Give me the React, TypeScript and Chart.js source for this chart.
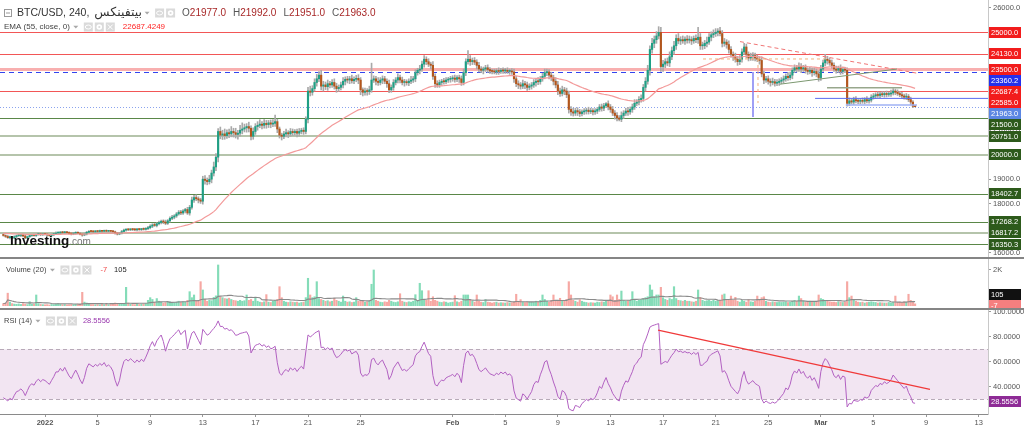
import React, { useEffect, useRef } from 'react';
import { Chart, registerables } from 'chart.js';

Chart.register(...registerables);

const FONT = '"Liberation Sans", "DejaVu Sans", Arial, sans-serif';

// ======================= DATA =======================
const symbolTitle = 'BTC/USD, 240,';
const exchangeTitle = 'بيتفينكس';
const emaTitle = 'EMA (55, close, 0)';
const volumeTitle = 'Volume (20)';
const rsiTitle = 'RSI (14)';
const ohlcLetters = ['O', 'H', 'L', 'C'];

// 240-minute candles; first one is 2021-12-28 20:00 (days counted from 2022-01-01 00:00)
const firstCandleDay = -19 / 6;
const candleStepDays = 1 / 6;
const firstOpen = 16720;

const closes = [
  16700,
  16660, 16610, 16640, 16600, 16650, 16690, // Dec 29
  16700, 16720, 16680, 16600, 16650, 16700, // Dec 30
  16720, 16700, 16740, 16760, 16730, 16750, // Dec 31
  16740, 16720, 16700, 16730, 16760, 16800, // Jan 1
  16800, 16830, 16810, 16840, 16810, 16780, // Jan 2
  16760, 16790, 16820, 16790, 16750, 16720, // Jan 3
  16760, 16830, 16870, 16860, 16850, 16870, // Jan 4
  16860, 16880, 16870, 16890, 16870, 16880, // Jan 5
  16870, 16850, 16800, 16760, 16790, 16860, // Jan 6
  16920, 16940, 16930, 16950, 16940, 16930, // Jan 7
  16950, 16940, 16960, 16950, 16980, 17020, // Jan 8
  17080, 17130, 17110, 17180, 17230, 17280, // Jan 9
  17250, 17200, 17300, 17400, 17450, 17500, // Jan 10
  17580, 17650, 17620, 17700, 17760, 17620, // Jan 11
  17850, 18150, 18250, 18200, 18150, 18100, // Jan 12
  19000, 18950, 18900, 19000, 19250, 19500, // Jan 13
  19900, 20950, 20800, 20850, 20780, 20900, // Jan 14
  20850, 20950, 20900, 20830, 20880, 21000, // Jan 15
  21050, 21100, 21150, 21080, 20750, 20950, // Jan 16
  21150, 21200, 21250, 21200, 21280, 21230, // Jan 17
  21300, 21250, 21280, 21350, 21050, 20800, // Jan 18
  20750, 20850, 20900, 20850, 20950, 20900, // Jan 19
  20950, 20880, 20950, 21000, 20950, 21450, // Jan 20
  22600, 22550, 22700, 22950, 23100, 23250, // Jan 21
  22800, 22850, 22780, 22900, 22850, 22950, // Jan 22
  22800, 22700, 22750, 22850, 23000, 23080, // Jan 23
  23050, 23100, 23020, 23080, 23120, 23050, // Jan 24
  22650, 22550, 22600, 22580, 22650, 23050, // Jan 25
  23100, 23000, 22950, 23050, 23100, 23000, // Jan 26
  22900, 22650, 22750, 22950, 23050, 23150, // Jan 27
  23050, 22950, 22980, 22940, 23000, 23050, // Jan 28
  23100, 23350, 23450, 23500, 23700, 23900, // Jan 29
  23800, 23700, 23650, 23200, 22900, 22850, // Jan 30
  22950, 23000, 22980, 23050, 23080, 23100, // Jan 31
  23130, 23080, 23150, 23100, 22950, 23350, // Feb 1
  23800, 23900, 23800, 23850, 23780, 23650, // Feb 2
  23500, 23450, 23500, 23550, 23480, 23420, // Feb 3
  23400, 23380, 23430, 23400, 23450, 23420, // Feb 4
  23450, 23400, 23420, 23380, 23100, 22900, // Feb 5
  22850, 22800, 22900, 22850, 22750, 22800, // Feb 6
  22850, 22950, 23000, 22980, 23100, 23200, // Feb 7
  23350, 23380, 23250, 23150, 23000, 22850, // Feb 8
  22600, 22500, 22650, 22600, 22450, 21850, // Feb 9
  21750, 21700, 21800, 21750, 21680, 21750, // Feb 10
  21780, 21820, 21760, 21800, 21750, 21780, // Feb 11
  21850, 21950, 21900, 22000, 22080, 21950, // Feb 12
  21850, 21700, 21600, 21500, 21450, 21600, // Feb 13
  21700, 21780, 21750, 21850, 21950, 22100, // Feb 14
  22150, 22250, 22300, 22750, 23000, 23450, // Feb 15
  24300, 24550, 24700, 24850, 25000, 23600, // Feb 16
  23700, 23800, 23750, 24000, 24250, 24450, // Feb 17
  24750, 24650, 24700, 24650, 24720, 24680, // Feb 18
  24700, 24650, 24750, 24700, 24800, 24450, // Feb 19
  24450, 24550, 24600, 24800, 24900, 24950, // Feb 20
  25000, 25050, 24950, 24550, 24600, 24500, // Feb 21
  24300, 24100, 24000, 23900, 23800, 23900, // Feb 22
  24200, 24400, 24100, 23950, 24000, 24050, // Feb 23
  23950, 23900, 23850, 23300, 23050, 23100, // Feb 24
  23000, 22950, 22980, 22920, 22950, 23000, // Feb 25
  23050, 23100, 23200, 23150, 23250, 23450, // Feb 26
  23550, 23500, 23600, 23500, 23550, 23450, // Feb 27
  23400, 23450, 23350, 23400, 23300, 23150, // Feb 28
  23500, 23750, 23900, 23850, 23750, 23650, // Mar 1
  23500, 23450, 23520, 23400, 23480, 23450, // Mar 2
  22100, 22200, 22150, 22250, 22200, 22180, // Mar 3
  22220, 22180, 22250, 22200, 22230, 22350, // Mar 4
  22400, 22450, 22420, 22480, 22450, 22500, // Mar 5
  22460, 22480, 22520, 22600, 22550, 22500, // Mar 6
  22450, 22400, 22350, 22380, 22250, 22150, // Mar 7
  21977, 21963, // Mar 8
];

// upper / lower shadow lengths (price units)
const wickUp = [
  40,
  30, 50, 40, 30, 40, 30,
  40, 30, 50, 40, 30, 40,
  30, 40, 30, 40, 30, 30,
  40, 30, 30, 40, 30, 50,
  40, 30, 40, 30, 30, 40,
  30, 40, 30, 30, 40, 30,
  50, 40, 30, 40, 30, 30,
  30, 40, 30, 30, 40, 30,
  30, 40, 30, 30, 40, 50,
  40, 30, 40, 30, 30, 40,
  30, 40, 30, 50, 40, 50,
  60, 50, 70, 40, 60, 50,
  60, 80, 50, 60, 70, 50,
  60, 70, 80, 60, 50, 90,
  80, 120, 90, 110, 80, 70,
  120, 150, 100, 160, 120, 200,
  150, 120, 180, 150, 200, 120,
  150, 200, 130, 180, 120, 200,
  250, 150, 120, 180, 100, 150,
  120, 150, 180, 100, 150, 120,
  100, 120, 150, 270, 100, 80,
  80, 100, 150, 80, 120, 100,
  80, 100, 120, 80, 100, 100,
  150, 200, 120, 150, 180, 150,
  200, 150, 120, 150, 100, 120,
  150, 120, 100, 120, 150, 100,
  120, 100, 150, 100, 120, 150,
  100, 80, 120, 100, 150, 690,
  120, 100, 150, 100, 120, 100,
  100, 150, 100, 120, 100, 150,
  100, 120, 100, 80, 100, 150,
  100, 120, 80, 150, 120, 150,
  100, 120, 80, 150, 100, 120,
  100, 80, 120, 100, 80, 100,
  100, 120, 80, 100, 120, 150,
  120, 350, 150, 100, 120, 100,
  120, 100, 80, 100, 120, 80,
  80, 100, 80, 120, 80, 100,
  80, 100, 80, 100, 120, 100,
  120, 100, 150, 100, 120, 100,
  100, 120, 100, 150, 100, 120,
  150, 120, 100, 120, 100, 150,
  150, 120, 150, 100, 120, 150,
  120, 150, 100, 120, 100, 80,
  100, 80, 120, 100, 80, 100,
  80, 100, 120, 100, 50, 120,
  100, 120, 100, 120, 100, 150,
  100, 120, 150, 100, 120, 150,
  100, 120, 150, 120, 150, 200,
  150, 200, 150, 180, 230, 200,
  150, 120, 150, 200, 150, 180,
  150, 200, 120, 150, 100, 150,
  150, 120, 100, 150, 400, 150,
  150, 120, 200, 150, 120, 150,
  150, 100, 150, 120, 150, 100,
  150, 120, 100, 150, 120, 150,
  120, 150, 120, 100, 150, 120,
  100, 120, 100, 150, 120, 100,
  120, 100, 150, 100, 120, 100,
  100, 120, 100, 150, 120, 100,
  120, 100, 150, 120, 100, 120,
  100, 120, 100, 150, 100, 120,
  150, 120, 200, 120, 100, 120,
  100, 120, 100, 150, 100, 80,
  100, 120, 80, 100, 120, 80,
  80, 100, 80, 120, 80, 100,
  100, 80, 120, 80, 100, 80,
  100, 80, 120, 100, 80, 100,
  80, 100, 80, 120, 80, 100,
  60, 15,
];

const wickDn = [
  30,
  40, 30, 50, 40, 30, 40,
  30, 50, 40, 30, 40, 30,
  40, 30, 40, 30, 40, 30,
  30, 40, 30, 30, 40, 30,
  30, 40, 30, 40, 30, 30,
  40, 30, 40, 30, 30, 50,
  30, 40, 30, 30, 40, 30,
  40, 30, 40, 30, 30, 40,
  30, 40, 50, 40, 30, 30,
  30, 40, 30, 30, 40, 30,
  40, 30, 40, 30, 30, 40,
  50, 60, 40, 60, 50, 60,
  70, 60, 50, 60, 50, 70,
  60, 50, 70, 60, 80, 60,
  90, 80, 100, 80, 120, 90,
  120, 150, 130, 100, 150, 120,
  150, 200, 150, 180, 150, 120,
  150, 120, 180, 150, 200, 120,
  150, 120, 180, 150, 150, 120,
  120, 150, 100, 150, 120, 150,
  120, 150, 100, 120, 150, 120,
  150, 100, 120, 150, 100, 120,
  100, 150, 120, 100, 120, 100,
  150, 150, 120, 100, 150, 120,
  150, 200, 120, 150, 120, 100,
  120, 150, 120, 100, 120, 150,
  120, 150, 100, 120, 100, 150,
  200, 150, 120, 150, 120, 100,
  100, 150, 120, 100, 150, 100,
  150, 120, 100, 120, 100, 120,
  120, 100, 150, 100, 120, 100,
  100, 120, 100, 150, 100, 120,
  120, 100, 150, 120, 150, 100,
  100, 120, 100, 80, 100, 120,
  100, 120, 100, 150, 120, 100,
  120, 100, 150, 120, 100, 150,
  120, 100, 150, 100, 120, 100,
  100, 80, 100, 120, 80, 100,
  100, 80, 120, 100, 150, 120,
  150, 120, 100, 150, 120, 100,
  120, 100, 150, 120, 100, 100,
  100, 120, 150, 120, 150, 120,
  150, 120, 100, 150, 120, 150,
  150, 120, 100, 150, 120, 100,
  100, 120, 100, 80, 120, 100,
  100, 80, 120, 100, 80, 120,
  120, 100, 150, 120, 70, 100,
  120, 100, 150, 100, 120, 100,
  100, 120, 100, 120, 150, 120,
  200, 150, 180, 150, 120, 200,
  200, 150, 120, 150, 120, 150,
  150, 120, 150, 100, 150, 120,
  120, 150, 100, 120, 150, 150,
  150, 120, 150, 100, 150, 120,
  120, 150, 100, 150, 120, 150,
  150, 120, 150, 120, 150, 120,
  120, 100, 150, 120, 100, 150,
  120, 100, 150, 120, 150, 100,
  120, 150, 100, 120, 100, 120,
  100, 120, 100, 120, 100, 150,
  100, 120, 100, 150, 100, 120,
  120, 100, 150, 100, 120, 150,
  120, 100, 120, 150, 100, 120,
  100, 120, 100, 120, 100, 100,
  120, 100, 80, 100, 80, 100,
  100, 80, 100, 80, 100, 80,
  80, 100, 80, 100, 80, 100,
  100, 80, 100, 80, 100, 80,
  80, 100, 80, 100, 80, 100,
  60, 12,
];

const volumes = [
  120,
  150, 700, 200, 120, 90, 80, // Dec 29
  100, 70, 120, 90, 60, 225, // Dec 30
  80, 90, 600, 120, 70, 60, // Dec 31
  50, 60, 40, 70, 60, 90, // Jan 1
  120, 80, 60, 70, 50, 60, // Jan 2
  70, 60, 80, 90, 100, 750, // Jan 3
  200, 150, 90, 60, 70, 50, // Jan 4
  60, 50, 70, 60, 80, 60, // Jan 5
  70, 90, 150, 120, 80, 100, // Jan 6
  130, 1030, 150, 90, 70, 60, // Jan 7
  80, 70, 90, 100, 120, 300, // Jan 8
  450, 350, 200, 400, 250, 200, // Jan 9
  150, 180, 200, 220, 150, 180, // Jan 10
  200, 250, 180, 220, 200, 300, // Jan 11
  785, 450, 600, 300, 250, 1345, // Jan 12
  880, 350, 250, 300, 280, 465, // Jan 13
  550, 2280, 500, 450, 400, 380, // Jan 14
  420, 350, 300, 280, 250, 300, // Jan 15
  250, 280, 600, 300, 350, 250, // Jan 16
  470, 250, 200, 180, 220, 620, // Jan 17
  200, 180, 250, 300, 350, 1065, // Jan 18
  450, 250, 200, 180, 220, 200, // Jan 19
  180, 200, 150, 180, 200, 450, // Jan 20
  1535, 600, 450, 500, 1345, 400, // Jan 21
  350, 300, 250, 280, 220, 250, // Jan 22
  415, 300, 250, 200, 540, 250, // Jan 23
  200, 220, 180, 200, 450, 250, // Jan 24
  300, 250, 200, 220, 250, 1200, // Jan 25
  2000, 300, 250, 200, 180, 220, // Jan 26
  200, 300, 250, 200, 180, 220, // Jan 27
  670, 250, 200, 180, 220, 200, // Jan 28
  250, 615, 300, 1255, 840, 350, // Jan 29
  300, 840, 250, 500, 300, 250, // Jan 30
  200, 180, 220, 200, 150, 180, // Jan 31
  200, 560, 220, 180, 250, 600, // Feb 1
  600, 600, 300, 250, 200, 600, // Feb 2
  250, 200, 180, 340, 200, 180, // Feb 3
  150, 180, 200, 150, 170, 160, // Feb 4
  150, 180, 160, 170, 200, 640, // Feb 5
  250, 340, 200, 180, 220, 200, // Feb 6
  200, 180, 250, 220, 300, 600, // Feb 7
  350, 250, 200, 300, 600, 250, // Feb 8
  300, 415, 250, 300, 350, 1345, // Feb 9
  600, 300, 250, 200, 340, 250, // Feb 10
  200, 180, 150, 170, 160, 150, // Feb 11
  200, 180, 220, 200, 250, 300, // Feb 12
  600, 500, 300, 600, 350, 820, // Feb 13
  300, 250, 280, 300, 785, 300, // Feb 14
  250, 300, 350, 400, 450, 500, // Feb 15
  1160, 880, 500, 600, 600, 1030, // Feb 16
  450, 350, 300, 400, 350, 1065, // Feb 17
  400, 300, 280, 250, 300, 250, // Feb 18
  250, 220, 200, 250, 880, 470, // Feb 19
  300, 250, 280, 300, 250, 300, // Feb 20
  250, 280, 300, 600, 655, 350, // Feb 21
  300, 540, 300, 470, 250, 200, // Feb 22
  300, 250, 200, 340, 220, 200, // Feb 23
  250, 540, 300, 450, 500, 250, // Feb 24
  200, 180, 220, 200, 180, 200, // Feb 25
  180, 200, 220, 180, 200, 250, // Feb 26
  300, 250, 540, 400, 250, 200, // Feb 27
  200, 250, 220, 200, 250, 600, // Feb 28
  400, 350, 300, 250, 220, 200, // Mar 1
  200, 180, 220, 200, 180, 200, // Mar 2
  1345, 450, 540, 300, 250, 200, // Mar 3
  180, 200, 150, 180, 200, 220, // Mar 4
  200, 180, 150, 170, 160, 150, // Mar 5
  150, 180, 160, 200, 540, 180, // Mar 6
  200, 180, 220, 200, 640, 300, // Mar 7
  250, 105, // Mar 8
];

const emaPeriod = 55;
const emaStartValue = 16790;
const emaLegendValue = '22687.4249';
const emaAxisValue = 22687.4;
const rsiPeriod = 14;
const rsiStartAvgGain = 25;
const rsiStartAvgLoss = 55;
const rsiLastValue = 28.5556;
const rsiUpperBand = 70;
const rsiLowerBand = 30;
const volumeMaPeriod = 20;
const volumeChangeValue = -7;

// horizontal levels drawn on the price pane
const redLevels = [25000, 24130, 22585];
const pinkLevels = [23500];
const blueDashedLevels = [23360.2];
const greenLevels = [21500, 18402.7, 17268.2, 16350.3];
const sageLevels = [20751, 20000, 16817.2];

// drawing anchors: [day, price]
const resistanceDashed = [[52.85, 24620], [66.31, 23330]];
const risingTrend = [[55.89, 22880], [64.79, 23500]];
const rangeTop = [[59.47, 22740], [65.17, 22740]];
const blueSupportStart = [58.56, 22300];
const rangeLow = [[60.9, 22030], [66.31, 22030]];
const orangeDashedH = [[50.04, 23910], [59.47, 23910]];
const orangeDashedV = [[54.22, 23910], [54.22, 22110]];
const blueVertical = [[53.84, 23380], [53.84, 21540]];
const rsiTrend = [[46.62, 85.4], [67.3, 38]];

const priceTickValues = [16000, 17000, 18000, 19000, 20000, 21000, 22000, 23000, 24000, 25000, 26000];
const volumeTickValues = [2000];
const volumeTickLabels = ['2K'];
const rsiTickValues = [40, 60, 80, 100];
const dateTickDays = [0, 4, 8, 12, 16, 20, 24, 31, 35, 39, 43, 47, 51, 55, 59, 63, 67, 71];
const dateTickLabels = ['2022', '5', '9', '13', '17', '21', '25', 'Feb', '5', '9', '13', '17', '21', '25', 'Mar', '5', '9', '13'];
const boldDateLabels = ['2022', 'Feb', 'Mar'];

// ======================= LAYOUT =======================
const W = 1024;
const AXIS_W = 36;
const X_MIN = -3.4221;
const X_MAX = 71.711;
const PRICE_H = 257;
const VOL_H = 53;
const RSI_H = 119;
const DATE_AXIS_H = 15;
const PRICE_MIN = 15821;
const PRICE_MAX = 26319.5;
const VOL_MIN = -241;
const VOL_MAX = 2727;
const RSI_MIN = 18.24;
const RSI_MAX = 101.44;

const UP = '#1f9f84';
const DOWN = '#b3561c';
const VOL_UP = '#84dcb8';
const VOL_DOWN = '#f6a8a3';

// ======================= DERIVED =======================
const candleX = closes.map((_, i) => firstCandleDay + i * candleStepDays);
const opens = closes.map((_, i) => (i === 0 ? firstOpen : closes[i - 1]));
const highs = closes.map((c, i) => Math.max(opens[i], c) + wickUp[i]);
const lows = closes.map((c, i) => Math.min(opens[i], c) - wickDn[i]);
const isUp = closes.map((c, i) => c >= opens[i]);

const emaValues: number[] = [];
closes.forEach((c, i) => {
  const a = 2 / (emaPeriod + 1);
  emaValues.push(i === 0 ? emaStartValue : emaValues[i - 1] + a * (c - emaValues[i - 1]));
});

const rsiValues: number[] = [];
{
  let g = rsiStartAvgGain;
  let l = rsiStartAvgLoss;
  closes.forEach((c, i) => {
    if (i > 0) {
      const ch = c - closes[i - 1];
      g = (g * (rsiPeriod - 1) + Math.max(ch, 0)) / rsiPeriod;
      l = (l * (rsiPeriod - 1) + Math.max(-ch, 0)) / rsiPeriod;
    }
    rsiValues.push(100 - 100 / (1 + g / l));
  });
}

const volumeMa = volumes.map((_, i) => {
  const w = volumes.slice(Math.max(0, i - volumeMaPeriod + 1), i + 1);
  return w.reduce((s, v) => s + v, 0) / w.length;
});

const last = closes.length - 1;
const lastOhlc = [opens[last], highs[last], lows[last], closes[last]];

// ======================= HELPERS =======================
function txt(ctx, s, x, y, size, color, weight = 'normal', align = 'left') {
  ctx.font = `${weight} ${size}px ${FONT}`;
  ctx.fillStyle = color;
  ctx.textAlign = align;
  ctx.textBaseline = 'middle';
  ctx.fillText(s, x, y);
  return ctx.measureText(s).width;
}

function caret(ctx, x, y) {
  ctx.fillStyle = '#a8a8a8';
  ctx.beginPath();
  ctx.moveTo(x - 2.5, y - 1.2);
  ctx.lineTo(x + 2.5, y - 1.2);
  ctx.lineTo(x, y + 1.6);
  ctx.closePath();
  ctx.fill();
}

function iconBox(ctx, x, y, kind) {
  ctx.save();
  ctx.fillStyle = '#dadada';
  ctx.fillRect(x, y - 4.5, 9, 9);
  ctx.strokeStyle = '#fff';
  ctx.fillStyle = '#fff';
  ctx.lineWidth = 1;
  if (kind === 'eye') {
    ctx.beginPath();
    ctx.ellipse(x + 4.5, y, 3, 2, 0, 0, Math.PI * 2);
    ctx.stroke();
  } else if (kind === 'gear') {
    ctx.beginPath();
    ctx.arc(x + 4.5, y, 2.8, 0, Math.PI * 2);
    ctx.fill();
    ctx.fillStyle = '#dadada';
    ctx.beginPath();
    ctx.arc(x + 4.5, y, 1.1, 0, Math.PI * 2);
    ctx.fill();
  } else {
    ctx.beginPath();
    ctx.moveTo(x + 2, y - 2.5);
    ctx.lineTo(x + 7, y + 2.5);
    ctx.moveTo(x + 7, y - 2.5);
    ctx.lineTo(x + 2, y + 2.5);
    ctx.stroke();
  }
  ctx.restore();
}

function axisBox(ctx, x, y, label, bg, fg = '#fff') {
  ctx.fillStyle = bg;
  ctx.fillRect(x, Math.round(y - 5.5), 32, 11);
  txt(ctx, label, x + 2, Math.round(y - 5.5) + 6, 7.5, fg);
}

function drawPath(chart, pts, color, width, dash = []) {
  const { ctx, chartArea: a } = chart;
  const xs = chart.scales.x;
  const ys = chart.scales.y;
  ctx.save();
  ctx.beginPath();
  ctx.rect(a.left, a.top, a.right - a.left, a.bottom - a.top);
  ctx.clip();
  ctx.strokeStyle = color;
  ctx.lineWidth = width;
  ctx.setLineDash(dash);
  ctx.beginPath();
  pts.forEach(([d, v], k) => {
    const px = xs.getPixelForValue(d);
    const py = ys.getPixelForValue(v);
    if (k === 0) ctx.moveTo(px, py);
    else ctx.lineTo(px, py);
  });
  ctx.stroke();
  ctx.restore();
}

function hLevel(chart, v, color, width, dash = []) {
  const { ctx, chartArea: a } = chart;
  const py = Math.round(chart.scales.y.getPixelForValue(v)) + (width % 2 ? 0.5 : 0);
  ctx.save();
  ctx.strokeStyle = color;
  ctx.lineWidth = width;
  ctx.setLineDash(dash);
  ctx.beginPath();
  ctx.moveTo(a.left, py);
  ctx.lineTo(a.right, py);
  ctx.stroke();
  ctx.restore();
}

const noPad = (s) => {
  s.paddingTop = 0;
  s.paddingBottom = 0;
  s.paddingLeft = 0;
  s.paddingRight = 0;
};

const xHidden = { type: 'linear', min: X_MIN, max: X_MAX, offset: false, display: false };

const rightAxis = (min, max, tickValues, fmt) => ({
  type: 'linear',
  position: 'right',
  min,
  max,
  beginAtZero: false,
  afterFit: (s) => {
    s.width = AXIS_W;
    noPad(s);
  },
  afterBuildTicks: (s) => {
    s.ticks = tickValues.map((v) => ({ value: v }));
  },
  ticks: { autoSkip: false, color: '#555', padding: 2, font: { size: 7.5, family: FONT }, callback: fmt },
  grid: { display: true, drawOnChartArea: false, tickLength: 3, color: '#999' },
  border: { display: true, color: '#c8c8c8' },
});

// ======================= PLUGINS =======================
const pricePlugin = {
  id: 'pricePane',
  beforeDatasetsDraw(chart) {
    sageLevels.forEach((v) => hLevel(chart, v, '#b5c4ab', 2));
    greenLevels.forEach((v) => hLevel(chart, v, '#5a8748', 1));
    redLevels.forEach((v) => hLevel(chart, v, '#f25656', 1));
    pinkLevels.forEach((v) => hLevel(chart, v, 'rgba(242,110,110,0.55)', 3));
    blueDashedLevels.forEach((v) => hLevel(chart, v, '#3344ee', 1, [5, 4]));
    hLevel(chart, closes[last], '#8aa3ee', 1, [1, 2]);
  },
  afterDatasetsDraw(chart) {
    const { ctx } = chart;
    drawPath(chart, orangeDashedH, '#f2b27e', 1, [3, 3]);
    drawPath(chart, orangeDashedV, '#f2b27e', 1, [3, 3]);
    drawPath(chart, blueVertical, '#8080f2', 1.5);
    drawPath(chart, resistanceDashed, '#f07575', 1, [4, 3]);
    drawPath(chart, risingTrend, '#7c9870', 1);
    drawPath(chart, rangeTop, '#98a78c', 1.5);
    drawPath(chart, [blueSupportStart, [chart.scales.x.max, blueSupportStart[1]]], '#5b6cf0', 1);
    drawPath(chart, rangeLow, '#9fb2f4', 1.5);

    // watermark logo
    ctx.save();
    ctx.font = `bold 13.5px ${FONT}`;
    ctx.fillStyle = '#111';
    ctx.textAlign = 'left';
    ctx.textBaseline = 'alphabetic';
    ctx.fillText('Investing', 10, 245);
    const lw = ctx.measureText('Investing').width;
    ctx.font = `10px ${FONT}`;
    ctx.fillStyle = '#777';
    ctx.fillText('.com', 10 + lw, 245);
    ctx.restore();

    // legend line 1
    ctx.save();
    ctx.strokeStyle = '#9a9a9a';
    ctx.lineWidth = 1;
    ctx.strokeRect(4.5, 9.5, 7, 7);
    ctx.beginPath();
    ctx.moveTo(6, 13);
    ctx.lineTo(10, 13);
    ctx.stroke();
    let x = 17;
    x += txt(ctx, symbolTitle, x, 13, 10.5, '#333') + 5;
    x += txt(ctx, exchangeTitle, x, 13, 12.5, '#333');
    caret(ctx, x + 5, 13);
    iconBox(ctx, x + 13, 13, 'eye');
    iconBox(ctx, x + 24, 13, 'gear');
    x += 40;
    lastOhlc.forEach((v, j) => {
      x += txt(ctx, ohlcLetters[j], x, 13, 10, '#555');
      x += txt(ctx, v.toFixed(1), x, 13, 10, '#a82828') + 7;
    });
    // legend line 2
    x = 4;
    x += txt(ctx, emaTitle, x, 27, 8, '#444');
    caret(ctx, x + 6, 27);
    iconBox(ctx, x + 14, 27, 'eye');
    iconBox(ctx, x + 25, 27, 'gear');
    iconBox(ctx, x + 36, 27, 'x');
    txt(ctx, emaLegendValue, x + 53, 27, 8, '#ff2222');
    ctx.restore();
  },
  afterDraw(chart) {
    const { ctx, chartArea: a } = chart;
    const ys = chart.scales.y;
    const labels = [
      ...redLevels.map((v) => ({ v, bg: '#f21c1c' })),
      ...pinkLevels.map((v) => ({ v, bg: '#f21c1c' })),
      ...blueDashedLevels.map((v) => ({ v, bg: '#2430ee' })),
      { v: emaAxisValue, bg: '#f21c1c' },
      { v: closes[last], bg: '#5b86e3' },
      ...greenLevels.map((v) => ({ v, bg: '#2d5a1b' })),
      ...sageLevels.map((v) => ({ v, bg: '#2d5a1b' })),
    ].sort((p, q) => q.v - p.v);
    let prev = -Infinity;
    ctx.save();
    labels.forEach((l) => {
      const yy = Math.max(ys.getPixelForValue(l.v), prev + 11);
      axisBox(ctx, a.right + 1, yy, l.v.toFixed(1), l.bg);
      prev = yy;
    });
    ctx.restore();
  },
};

const volumePlugin = {
  id: 'volumePane',
  afterDatasetsDraw(chart) {
    const { ctx } = chart;
    ctx.save();
    let x = 6;
    x += txt(ctx, volumeTitle, x, 13, 7.5, '#444');
    caret(ctx, x + 6, 13);
    iconBox(ctx, x + 14, 13, 'eye');
    iconBox(ctx, x + 25, 13, 'gear');
    iconBox(ctx, x + 36, 13, 'x');
    x += 54;
    x += txt(ctx, String(volumeChangeValue), x, 13, 7.5, '#f04a4a') + 7;
    txt(ctx, String(volumes[last]), x, 13, 7.5, '#222');
    ctx.restore();
  },
  afterDraw(chart) {
    const { ctx, chartArea: a } = chart;
    const ys = chart.scales.y;
    ctx.save();
    const yNeg = ys.getPixelForValue(volumeChangeValue);
    const yLast = Math.min(ys.getPixelForValue(volumes[last]), yNeg - 11);
    axisBox(ctx, a.right + 1, yNeg, String(volumeChangeValue), '#f57f7f');
    axisBox(ctx, a.right + 1, yLast, String(volumes[last]), '#111');
    ctx.fillStyle = '#858585';
    ctx.fillRect(0, 0, W, 2);
    ctx.fillRect(0, VOL_H - 2, W, 2);
    ctx.restore();
  },
};

const rsiPlugin = {
  id: 'rsiPane',
  beforeDatasetsDraw(chart) {
    const { ctx, chartArea: a } = chart;
    const ys = chart.scales.y;
    const yU = ys.getPixelForValue(rsiUpperBand);
    const yL = ys.getPixelForValue(rsiLowerBand);
    ctx.save();
    ctx.fillStyle = '#f2e5f2';
    ctx.fillRect(a.left, yU, a.right - a.left, yL - yU);
    ctx.restore();
    hLevel(chart, rsiUpperBand, '#b8aab8', 1, [4, 3]);
    hLevel(chart, rsiLowerBand, '#b8aab8', 1, [4, 3]);
  },
  afterDatasetsDraw(chart) {
    const { ctx } = chart;
    drawPath(chart, rsiTrend, '#f03a3a', 1.2);
    ctx.save();
    let x = 4;
    x += txt(ctx, rsiTitle, x, 11, 7.5, '#444');
    caret(ctx, x + 6, 11);
    iconBox(ctx, x + 14, 11, 'eye');
    iconBox(ctx, x + 25, 11, 'gear');
    iconBox(ctx, x + 36, 11, 'x');
    txt(ctx, rsiLastValue.toFixed(4), x + 51, 11, 7.5, '#9a3aae');
    ctx.restore();
  },
  afterDraw(chart) {
    const { ctx, chartArea: a } = chart;
    ctx.save();
    axisBox(ctx, a.right + 1, chart.scales.y.getPixelForValue(rsiLastValue), rsiLastValue.toFixed(4), '#8e2b96');
    ctx.restore();
  },
};

const baseOptions = {
  responsive: false,
  animation: false,
  devicePixelRatio: 1,
  events: [],
  layout: { padding: 0 },
  plugins: { legend: { display: false }, tooltip: { enabled: false } },
};

// ======================= COMPONENT =======================
export default function App() {
  const priceRef = useRef(null);
  const volRef = useRef(null);
  const rsiRef = useRef(null);

  useEffect(() => {
    Chart.defaults.font.family = FONT;

    const price = new Chart(priceRef.current, {
      type: 'bar',
      data: {
        datasets: [
          {
            type: 'line',
            data: candleX.map((x, i) => ({ x, y: emaValues[i] })),
            borderColor: '#f39a9a',
            borderWidth: 1.2,
            pointRadius: 0,
            order: 1,
          },
          {
            type: 'bar',
            data: candleX.map((x, i) => ({ x, y: [opens[i], closes[i]] })),
            backgroundColor: isUp.map((u) => (u ? UP : DOWN)),
            barThickness: 1.5,
            minBarLength: 1,
            grouped: false,
            order: 2,
          },
          {
            type: 'bar',
            data: candleX.map((x, i) => ({ x, y: [lows[i], highs[i]] })),
            backgroundColor: '#a9a9a9',
            barThickness: 1,
            grouped: false,
            order: 3,
          },
        ],
      },
      options: {
        ...baseOptions,
        scales: {
          x: xHidden,
          y: rightAxis(PRICE_MIN, PRICE_MAX, priceTickValues, (v) => Number(v).toFixed(1)),
        },
      },
      plugins: [pricePlugin],
    });

    const vol = new Chart(volRef.current, {
      type: 'bar',
      data: {
        datasets: [
          {
            type: 'line',
            data: candleX.map((x, i) => ({ x, y: volumeMa[i] })),
            borderColor: '#8a8a8a',
            borderWidth: 1.1,
            pointRadius: 0,
            order: 1,
          },
          {
            type: 'bar',
            data: candleX.map((x, i) => ({ x, y: volumes[i] })),
            backgroundColor: isUp.map((u) => (u ? VOL_UP : VOL_DOWN)),
            barThickness: 1.5,
            grouped: false,
            order: 2,
          },
        ],
      },
      options: {
        ...baseOptions,
        scales: {
          x: xHidden,
          y: rightAxis(VOL_MIN, VOL_MAX, volumeTickValues, (v, i) => volumeTickLabels[i]),
        },
      },
      plugins: [volumePlugin],
    });

    const rsi = new Chart(rsiRef.current, {
      type: 'line',
      data: {
        datasets: [
          {
            data: candleX.map((x, i) => ({ x, y: rsiValues[i] })),
            borderColor: '#b261c2',
            borderWidth: 1,
            pointRadius: 0,
          },
        ],
      },
      options: {
        ...baseOptions,
        scales: {
          x: {
            type: 'linear',
            position: 'bottom',
            min: X_MIN,
            max: X_MAX,
            offset: false,
            afterFit: (s) => {
              s.height = DATE_AXIS_H;
              noPad(s);
            },
            afterBuildTicks: (s) => {
              s.ticks = dateTickDays.map((v) => ({ value: v }));
            },
            ticks: {
              autoSkip: false,
              maxRotation: 0,
              color: '#555',
              padding: 1,
              font: (c) => ({
                size: 7.5,
                family: FONT,
                weight: boldDateLabels.includes(dateTickLabels[c.index]) ? 'bold' : 'normal',
              }),
              callback: (v, i) => dateTickLabels[i],
            },
            grid: { display: true, drawOnChartArea: false, tickLength: 3, color: '#999' },
            border: { display: true, color: '#8a8a8a' },
          },
          y: rightAxis(RSI_MIN, RSI_MAX, rsiTickValues, (v) => Number(v).toFixed(4)),
        },
      },
      plugins: [rsiPlugin],
    });

    return () => {
      price.destroy();
      vol.destroy();
      rsi.destroy();
    };
  }, []);

  return (
    <div style={{ position: 'fixed', left: 0, top: 0, width: W, height: 429, background: '#fff', overflow: 'hidden' }}>
      <canvas ref={priceRef} width={W} height={PRICE_H} style={{ position: 'absolute', left: 0, top: 0 }} />
      <canvas ref={volRef} width={W} height={VOL_H} style={{ position: 'absolute', left: 0, top: PRICE_H }} />
      <canvas ref={rsiRef} width={W} height={RSI_H} style={{ position: 'absolute', left: 0, top: PRICE_H + VOL_H }} />
    </div>
  );
}
